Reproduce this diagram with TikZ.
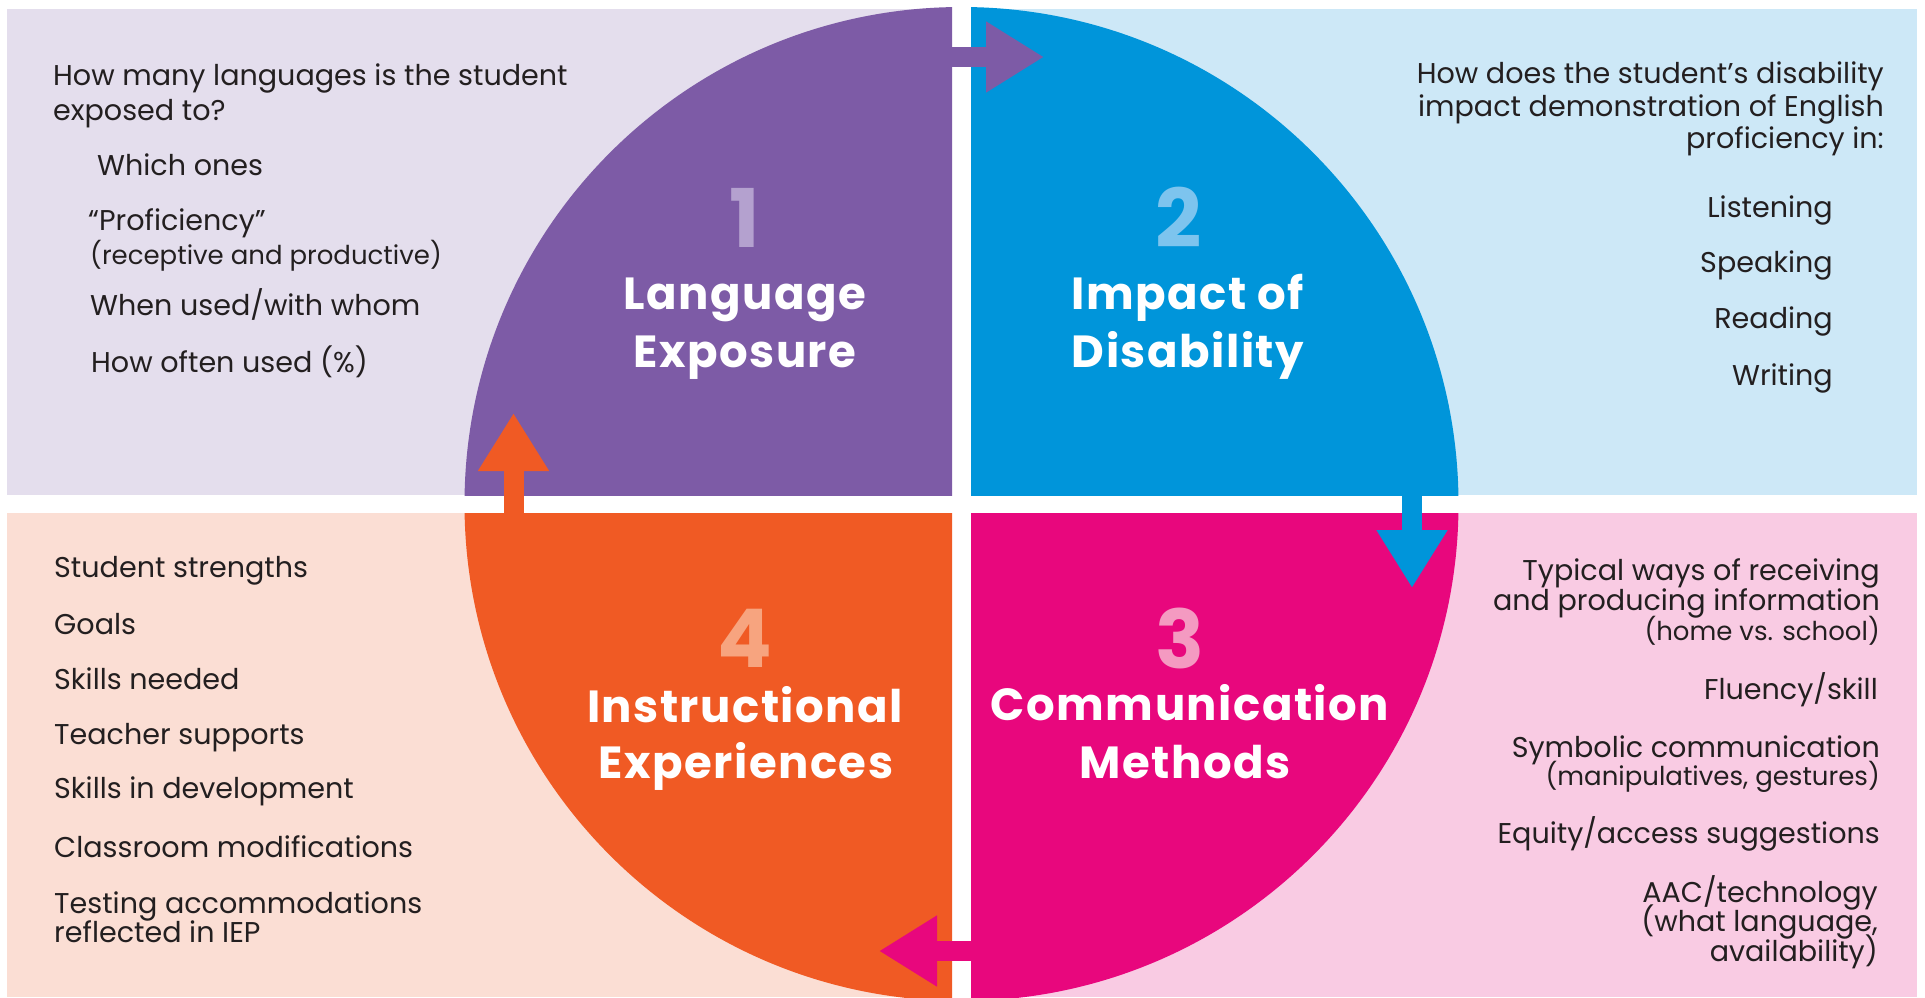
\documentclass[tikz,border=0pt]{standalone}
\usepackage{fontspec}
\setmainfont{Poppins}
\newfontfamily\titlefont[LetterSpace=3.3]{Poppins}
\usepackage{xcolor}
\usetikzlibrary{arrows.meta,positioning}

\definecolor{purpDark}{HTML}{7D5BA6}
\definecolor{purpNum}{HTML}{B4A1CF}
\definecolor{purpPale}{HTML}{E4DEED}
\definecolor{blueDark}{HTML}{0095DA}
\definecolor{blueNum}{HTML}{7DC4EE}
\definecolor{bluePale}{HTML}{CDE8F7}
\definecolor{pinkDark}{HTML}{E8077D}
\definecolor{pinkNum}{HTML}{F49AC1}
\definecolor{pinkPale}{HTML}{F9CBE3}
\definecolor{orangeDark}{HTML}{F05A24}
\definecolor{orangeNum}{HTML}{F7A47F}
\definecolor{orangePale}{HTML}{FBDED4}
\definecolor{inkgray}{HTML}{231F20}

\begin{document}
\begin{tikzpicture}[x=1pt,y=-1pt,
  txt/.style={font=\fontsize{28.6}{32}\selectfont, text=inkgray, inner sep=0pt},
  smalltxt/.style={font=\fontsize{26}{30}\selectfont, text=inkgray, inner sep=0pt},
  title/.style={font=\fontsize{45}{50}\titlefont\bfseries, text=white, inner sep=0pt, anchor=base},
  num/.style={font=\fontsize{81}{84}\selectfont\bfseries, inner sep=0pt, anchor=base},
  cyclearrow/.style={line width=20pt, -{Triangle[length=58pt,width=67pt]}}]
\useasboundingbox (0,0) rectangle (1925,997);
\coordinate (c) at (961.5,504);
%% panels behind the circle
\fill[purpPale] (7,9) rectangle (952,495); % 1
\fill[bluePale] (971,9) rectangle (1917,495); % 2
\fill[pinkPale] (971,513) rectangle (1917,997); % 3
\fill[orangePale] (7,513) rectangle (952,997); % 4
%% quarters of the circle
\begin{scope}
\clip (0,0) rectangle (952,495);
\fill[purpDark] (c) circle (497pt);
\end{scope}
\begin{scope}
\clip (971,0) rectangle (1925,495);
\fill[blueDark] (c) circle (497pt);
\end{scope}
\begin{scope}
\clip (971,513) rectangle (1925,997);
\fill[pinkDark] (c) circle (497pt);
\end{scope}
\begin{scope}
\clip (0,513) rectangle (952,997);
\fill[orangeDark] (c) circle (497pt);
\end{scope}
%% arrows between the quarters
\coordinate (a1s) at (900,57);
\coordinate (a1e) at (1044,57);
\coordinate (a2s) at (1412,440);
\coordinate (a2e) at (1412,588);
\coordinate (a3s) at (1020,951);
\coordinate (a3e) at (879,951);
\coordinate (a4s) at (513.5,570);
\coordinate (a4e) at (513.5,413);
\draw[cyclearrow, purpDark] (a1s) -- (a1e); % 1 to 2
\draw[cyclearrow, blueDark] (a2s) -- (a2e); % 2 to 3
\draw[cyclearrow, pinkDark] (a3s) -- (a3e); % 3 to 4
\draw[cyclearrow, orangeDark] (a4s) -- (a4e); % 4 to 1
%% numbers and titles
\node[num, text=purpNum] (n1) at (745,247) {1};
\node[title] (t1a) at (745,309) {Language};
\node[title] (t1b) at (745,367) {Exposure};
\node[num, text=blueNum] (n2) at (1179,247) {2};
\node[title] (t2a) at (1188,309) {Impact of};
\node[title] (t2b) at (1188,367) {Disability};
\node[num, text=pinkNum] (n3) at (1180,668) {3};
\node[title] (t3a) at (1190,720) {Communication};
\node[title] (t3b) at (1185,778) {Methods};
\node[num, text=orangeNum] (n4) at (745,667) {4};
\node[title] (t4a) at (745,722) {Instructional};
\node[title] (t4b) at (746,778) {Experiences};
%% questions, top left
\node[txt, anchor=base west] (q1a) at (53,85) {How many languages is the student};
\node[txt, anchor=base west] (q1b) at (53,120) {exposed to?};
\node[txt, anchor=base west] (q1c) at (97,175) {Which ones};
\node[txt, anchor=base west] (q1d) at (88,230) {“Proficiency”};
\node[smalltxt, anchor=base west] (q1e) at (90,264) {(receptive and productive)};
\node[txt, anchor=base west] (q1f) at (90,315) {When used/with whom};
\node[txt, anchor=base west] (q1g) at (91,372) {How often used (\%)};
%% questions, top right
\node[txt, anchor=base east] (q2a) at (1884,83) {How does the student’s disability};
\node[txt, anchor=base east] (q2b) at (1884,116) {impact demonstration of English};
\node[txt, anchor=base east] (q2c) at (1884,148) {proficiency in:};
\node[txt, anchor=base east] (q2d) at (1833,217) {Listening};
\node[txt, anchor=base east] (q2e) at (1833,272) {Speaking};
\node[txt, anchor=base east] (q2f) at (1833,328) {Reading};
\node[txt, anchor=base east] (q2g) at (1833,385) {Writing};
%% questions, bottom right
\node[txt, anchor=base east] (q3a) at (1880,580) {Typical ways of receiving};
\node[txt, anchor=base east] (q3b) at (1880,610) {and producing information};
\node[smalltxt, anchor=base east] (q3c) at (1880,640) {(home vs. school)};
\node[txt, anchor=base east] (q3d) at (1878,699) {Fluency/skill};
\node[txt, anchor=base east] (q3e) at (1880,757) {Symbolic communication};
\node[smalltxt, anchor=base east] (q3f) at (1880,785) {(manipulatives, gestures)};
\node[txt, anchor=base east] (q3g) at (1880,843) {Equity/access suggestions};
\node[txt, anchor=base east] (q3h) at (1878,902) {AAC/technology};
\node[txt, anchor=base east] (q3i) at (1878,931) {(what language,};
\node[txt, anchor=base east] (q3j) at (1878,961) {availability)};
%% questions, bottom left
\node[txt, anchor=base west] (q4a) at (54,577) {Student strengths};
\node[txt, anchor=base west] (q4b) at (54,634) {Goals};
\node[txt, anchor=base west] (q4c) at (54,689) {Skills needed};
\node[txt, anchor=base west] (q4d) at (54,744) {Teacher supports};
\node[txt, anchor=base west] (q4e) at (54,798) {Skills in development};
\node[txt, anchor=base west] (q4f) at (54,857) {Classroom modifications};
\node[txt, anchor=base west] (q4g) at (54,913) {Testing accommodations};
\node[txt, anchor=base west] (q4h) at (54,942) {reflected in IEP};
\end{tikzpicture}
\end{document}
